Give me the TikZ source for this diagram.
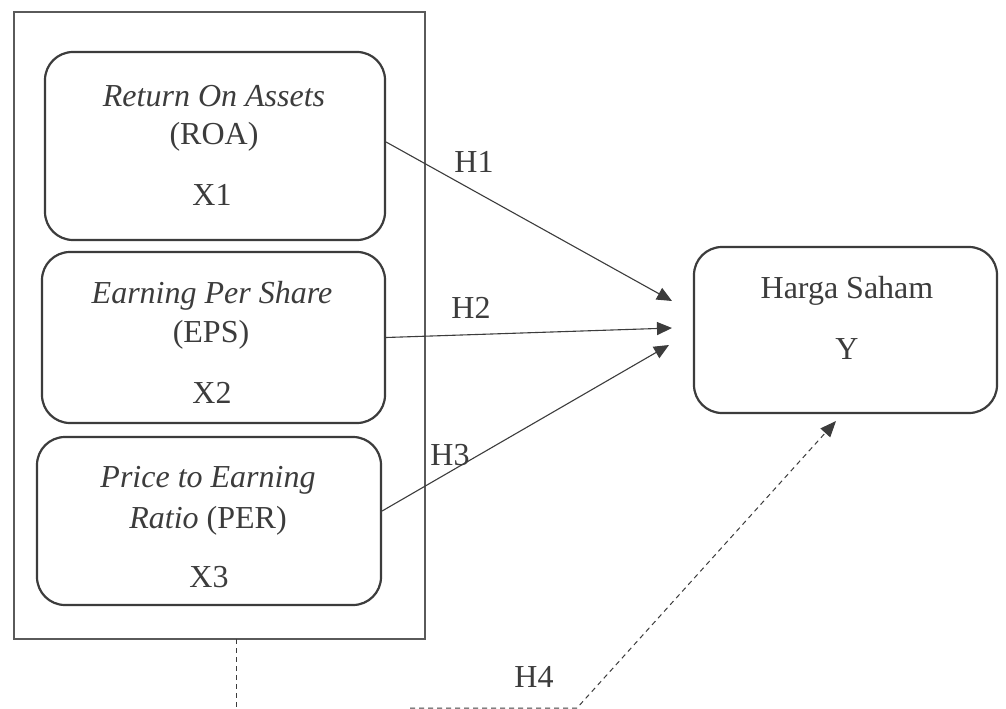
\documentclass[tikz,border=0pt]{standalone}
\usepackage{fontspec}
\setmainfont{Liberation Serif}
\usetikzlibrary{arrows.meta}
\definecolor{ink}{HTML}{3C3C3C}
\definecolor{frame}{HTML}{5A5A5A}
\begin{document}
\begin{tikzpicture}[x=1pt,y=-1pt,
  varbox/.style={draw=ink, line width=2.2pt, rounded corners=28pt, inner sep=0pt},
  groupbox/.style={draw=frame, line width=1.2pt, inner sep=0pt},
  lbl/.style={anchor=base, text=ink, font=\fontsize{32}{38}\selectfont, inner sep=0pt},
  link/.style={draw=ink, line width=1.1pt, -{Triangle[length=15pt,width=13pt]}},
  dline/.style={draw=ink, line width=1pt, dash pattern=on 5pt off 4pt},
]
\useasboundingbox (0,0) rectangle (1006,709);
\fill[white] (0,0) rectangle (1006,709);

% group frame
\node[groupbox, minimum width=411pt, minimum height=627pt] (group) at (219.5,325.5) {};

% variable boxes
\node[varbox, minimum width=340pt, minimum height=188pt] (roa) at (215,146) {};
\node[varbox, minimum width=343pt, minimum height=171pt] (eps) at (213.5,337.5) {};
\node[varbox, minimum width=344pt, minimum height=168pt] (per) at (209,521) {};
\node[varbox, minimum width=303pt, minimum height=166pt] (harga) at (845.5,330) {};

% texts
\node[lbl] (roa1) at (214,106) {\textit{Return On Assets}};
\node[lbl] (roa2) at (214,144) {(ROA)};
\node[lbl] (roa3) at (212,205) {X1};
\node[lbl] (eps1) at (212,303) {\textit{Earning Per Share}};
\node[lbl] (eps2) at (211,342) {(EPS)};
\node[lbl] (eps3) at (212,403) {X2};
\node[lbl] (per1) at (208,487) {\textit{Price to Earning}};
\node[lbl] (per2) at (208,528) {\textit{Ratio} (PER)};
\node[lbl] (per3) at (209,587) {X3};
\node[lbl] (har1) at (847,298) {Harga Saham};
\node[lbl] (har2) at (847,359) {Y};

% arrow tips
\coordinate (t1) at (672,301);
\coordinate (t2) at (672,328);
\coordinate (t3) at (669,345);
\coordinate (t4) at (836,421);

\draw[link] ([yshift=4pt]roa.east) -- (t1);
\draw[link] (eps.east) -- (t2);
\draw[link] ([yshift=10pt]per.east) -- (t3);

\node[lbl] (h1) at (474,172) {H1};
\node[lbl] (h2) at (471,318) {H2};
\node[lbl] (h3) at (450,465) {H3};
\node[lbl] (h4) at (534,687) {H4};

% dashed moderation path
\coordinate (d0) at (236,639);
\coordinate (d1) at (236,709);
\coordinate (d2) at (410,708);
\coordinate (d3) at (577,708);
\draw[dline] (d0) -- (d1);
\draw[dline, -{Triangle[length=16pt,width=13pt]}] (d2) -- (d3) -- (t4);
\end{tikzpicture}
\end{document}
